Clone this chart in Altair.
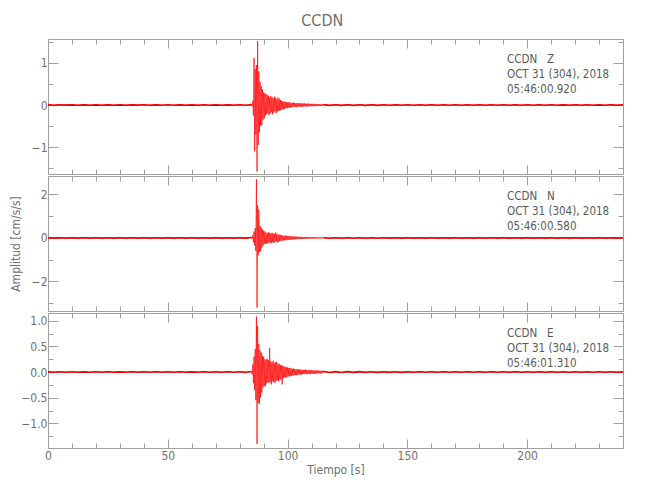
import altair as alt
import numpy as np
import pandas as pd

# ---------------- data ----------------
X_MAX = 240.0
X_MAJOR = [0, 50, 100, 150, 200]
X_MINOR = [10, 20, 30, 40, 60, 70, 80, 90, 110, 120, 130, 140, 160, 170, 180, 190, 210, 220, 230, 240]

# sampling of the three segments of each trace (start, step in seconds)
PRE_START, PRE_STEP = 0.0, 2.5
EV_START, EV_STEP = 85.0, 0.25
POST_START, POST_STEP = 115.0, 2.5

# --- Z component ---
Z_PRE = [0.004, -0.004, 0.005, -0.003, 0.004, -0.005, 0.003, -0.004, 0.004, -0.004, 0.004, -0.004,
         0.004, -0.005, 0.004, -0.003, 0.005, -0.004, 0.004, -0.004, 0.005, -0.005, 0.004, -0.004,
         0.003, -0.004, 0.005, -0.004, 0.004, -0.004, 0.004, -0.004, 0.005, -0.005, 0.01]
Z_EVENT = [0.02, -0.03, 0.10, -0.25, 1.12, -1.10, 0.85, -0.70,
           0.95, -1.58, 1.52, -0.95, 0.80, -0.65, 0.55, -0.50,
           0.45, -0.48, 0.38, -0.35, 0.30, -0.32, 0.28, -0.25,
           0.26, -0.22, 0.24, -0.20, 0.22, -0.24, 0.18, -0.20,
           0.21, -0.17, 0.19, -0.22, 0.16, -0.18, 0.20, -0.15,
           0.17, -0.19, 0.14, -0.16, 0.18, -0.13, 0.15, -0.14,
           0.12, -0.12, 0.10, -0.11, 0.09, -0.10, 0.08, -0.09,
           0.08, -0.07, 0.07, -0.08, 0.06, -0.07, 0.07, -0.06,
           0.06, -0.05, 0.05, -0.06, 0.05, -0.05, 0.06, -0.04,
           0.05, -0.05, 0.04, -0.05, 0.05, -0.04, 0.04, -0.04,
           0.04, -0.04, 0.05, -0.04, 0.03, -0.04, 0.04, -0.03,
           0.04, -0.03, 0.03, -0.04, 0.03, -0.03, 0.04, -0.03,
           0.03, -0.03, 0.03, -0.03, 0.025, -0.03, 0.03, -0.025,
           0.025, -0.025, 0.03, -0.02, 0.025, -0.025, 0.02, -0.025,
           0.02, -0.02, 0.025, -0.02, 0.02, -0.02, 0.02, -0.02,
           0.02]
Z_POST = [0.01, -0.008, 0.008, -0.008, 0.007, -0.008, 0.007, -0.007, 0.006, -0.007,
          0.006, -0.006, 0.006, -0.006, 0.005, -0.006, 0.005, -0.005, 0.005, -0.005,
          0.005, -0.005, 0.005, -0.005, 0.005, -0.005, 0.005, -0.005, 0.005, -0.005,
          0.005, -0.005, 0.005, -0.005, 0.005, -0.005, 0.005, -0.005, 0.005, -0.005,
          0.004, -0.005, 0.005, -0.004, 0.005, -0.005, 0.004, -0.005, 0.005, -0.004, 0.004]

# --- N component ---
N_PRE = [0.008, -0.007, 0.008, -0.009, 0.007, -0.008, 0.009, -0.007, 0.008, -0.009, 0.007, -0.008,
         0.009, -0.008, 0.007, -0.009, 0.008, -0.007, 0.009, -0.008, 0.007, -0.009, 0.008, -0.008,
         0.009, -0.007, 0.008, -0.009, 0.008, -0.008, 0.009, -0.007, 0.01, -0.009, 0.02]
N_EVENT = [0.02, -0.04, 0.12, -0.20, 0.30, -0.35, 0.45, -0.60,
           2.70, -3.20, 1.50, -0.80, 1.30, -0.65, 0.55, -0.60,
           0.48, -0.45, 0.40, -0.35, 0.32, -0.28, 0.30, -0.26,
           0.25, -0.27, 0.22, -0.24, 0.26, -0.20, 0.23, -0.25,
           0.20, -0.22, 0.24, -0.19, 0.21, -0.23, 0.18, -0.20,
           0.25, -0.17, 0.19, -0.21, 0.16, -0.18, 0.15, -0.14,
           0.14, -0.13, 0.12, -0.12, 0.11, -0.12, 0.10, -0.11,
           0.10, -0.09, 0.11, -0.10, 0.09, -0.09, 0.08, -0.09,
           0.08, -0.07, 0.08, -0.08, 0.07, -0.07, 0.06, -0.07,
           0.06, -0.06, 0.07, -0.05, 0.06, -0.06, 0.05, -0.05,
           0.05, -0.05, 0.05, -0.04, 0.05, -0.05, 0.04, -0.04,
           0.04, -0.04, 0.05, -0.04, 0.04, -0.04, 0.04, -0.03,
           0.04, -0.03, 0.03, -0.04, 0.03, -0.03, 0.04, -0.03,
           0.03, -0.03, 0.03, -0.03, 0.03, -0.025, 0.025, -0.03,
           0.025, -0.025, 0.03, -0.02, 0.025, -0.025, 0.02, -0.025,
           0.02]
N_POST = [0.012, -0.011, 0.01, -0.011, 0.01, -0.01, 0.01, -0.01, 0.009, -0.01,
          0.009, -0.009, 0.009, -0.009, 0.009, -0.009, 0.009, -0.009, 0.009, -0.009,
          0.008, -0.009, 0.009, -0.008, 0.008, -0.009, 0.008, -0.008, 0.009, -0.008,
          0.008, -0.008, 0.008, -0.008, 0.008, -0.008, 0.008, -0.008, 0.008, -0.008,
          0.008, -0.008, 0.008, -0.008, 0.008, -0.008, 0.008, -0.008, 0.008, -0.008, 0.008]

# --- E component ---
E_PRE = [0.004, -0.004, 0.005, -0.003, 0.004, -0.005, 0.003, -0.004, 0.004, -0.004, 0.004, -0.004,
         0.003, -0.004, 0.004, -0.003, 0.005, -0.004, 0.004, -0.004, 0.004, -0.005, 0.004, -0.003,
         0.003, -0.004, 0.005, -0.004, 0.004, -0.004, 0.004, -0.004, 0.005, -0.005, 0.01]
E_EVENT = [0.02, -0.05, 0.15, -0.22, 0.30, -0.35, 0.45, -0.55,
           1.08, -1.40, 0.90, -0.60, 0.55, -0.62, 0.42, -0.50,
           0.38, -0.40, 0.32, -0.30, 0.30, -0.28, 0.25, -0.27,
           0.24, -0.22, 0.26, -0.20, 0.23, -0.21, 0.47, -0.20,
           0.21, -0.24, 0.19, -0.18, 0.22, -0.20, 0.17, -0.21,
           0.19, -0.17, 0.20, -0.16, 0.15, -0.18, 0.16, -0.15,
           0.14, -0.15, 0.13, -0.24, 0.12, -0.12, 0.11, -0.10,
           0.10, -0.11, 0.09, -0.10, 0.09, -0.08, 0.08, -0.09,
           0.08, -0.07, 0.07, -0.08, 0.06, -0.07, 0.07, -0.06,
           0.06, -0.06, 0.05, -0.06, 0.06, -0.05, 0.05, -0.05,
           0.05, -0.05, 0.04, -0.05, 0.05, -0.04, 0.04, -0.04,
           0.04, -0.04, 0.05, -0.04, 0.04, -0.04, 0.04, -0.03,
           0.04, -0.04, 0.03, -0.04, 0.04, -0.03, 0.03, -0.035,
           0.03, -0.03, 0.035, -0.03, 0.03, -0.03, 0.03, -0.025,
           0.03, -0.025, 0.025, -0.03, 0.025, -0.025, 0.025, -0.02,
           0.025]
E_POST = [0.01, -0.009, 0.008, -0.008, 0.007, -0.007, 0.007, -0.007, 0.006, -0.006,
          0.006, -0.006, 0.006, -0.006, 0.005, -0.005, 0.005, -0.005, 0.005, -0.005,
          0.005, -0.005, 0.005, -0.005, 0.005, -0.005, 0.005, -0.005, 0.005, -0.005,
          0.005, -0.005, 0.005, -0.005, 0.005, -0.005, 0.005, -0.005, 0.005, -0.005,
          0.004, -0.005, 0.005, -0.004, 0.004, -0.005, 0.004, -0.004, 0.005, -0.004, 0.004]

ANN_Z = "CCDN\u00a0\u00a0\u00a0Z\nOCT 31 (304), 2018\n05:46:00.920"
ANN_N = "CCDN\u00a0\u00a0\u00a0N\nOCT 31 (304), 2018\n05:46:00.580"
ANN_E = "CCDN\u00a0\u00a0\u00a0E\nOCT 31 (304), 2018\n05:46:01.310"

# ---------------- style ----------------
FONT = "DejaVu Sans Condensed, Liberation Sans, sans-serif"
AX_COLOR = "#a0a0a0"
TXT_COLOR = "#707070"
ANN_COLOR = "#5a5a5a"
W, H = 575, 135


def trace_df(pre, event, post):
    t = np.concatenate([
        PRE_START + PRE_STEP * np.arange(len(pre)),
        EV_START + EV_STEP * np.arange(len(event)),
        POST_START + POST_STEP * np.arange(len(post)),
    ])
    v = np.array(list(pre) + list(event) + list(post), dtype=float)
    seg = ["pre"] * len(pre) + ["event"] * len(event) + ["post"] * len(post)
    return pd.DataFrame({"t": t, "v": v, "seg": seg})


def ax(**kw):
    base = dict(domain=False, grid=False, tickColor=AX_COLOR, tickWidth=1,
                labelFont=FONT, labelFontSize=12, labelColor=TXT_COLOR,
                titleFont=FONT, titleFontSize=12, titleFontWeight="normal",
                titleColor=TXT_COLOR, labelFlush=False)
    base.update(kw)
    return alt.Axis(**base)


GHOST = pd.DataFrame({"t": [0.0], "v": [0.0]})


def panel(df, ann, ydom, ymaj, ymin, yfmt, last, ytitle):
    xs = alt.Scale(domain=[0, X_MAX], nice=False, zero=False)
    ys = alt.Scale(domain=ydom, nice=False, zero=False)

    xb_kw = dict(orient="bottom", values=X_MAJOR, tickSize=9, offset=-9,
                 labels=last, format="d", labelPadding=2, title=None)
    if last:
        xb_kw.update(title="Tiempo  [s]", titlePadding=3)
    yl_kw = dict(orient="left", values=ymaj, tickSize=10, offset=-10,
                 labelPadding=1, format=yfmt, title=None)
    if ytitle:
        yl_kw.update(title=ytitle, titlePadding=9)

    line = alt.Chart(df).mark_line(color="#ff0000", strokeWidth=0.7, clip=True).encode(
        x=alt.X("t:Q", scale=xs, axis=ax(**xb_kw)),
        y=alt.Y("v:Q", scale=ys, axis=ax(**yl_kw)),
        order="t:Q",
    )
    base_line = alt.Chart(df).transform_filter(alt.datum.seg != "event").mark_line(
        color="#ee0000", strokeWidth=1.6, clip=True
    ).encode(
        x=alt.X("t:Q", scale=xs, axis=None),
        y=alt.Y("v:Q", scale=ys, axis=None),
        detail="seg:N",
    )
    g_major = alt.Chart(GHOST).mark_point(opacity=0).encode(
        x=alt.X("t:Q", scale=xs, axis=ax(orient="top", values=X_MAJOR, tickSize=9, offset=-9,
                                         labels=False, title=None)),
        y=alt.Y("v:Q", scale=ys, axis=ax(orient="right", values=ymaj, tickSize=10, offset=-10,
                                         labels=False, title=None)),
    )
    g_minor_b = alt.Chart(GHOST).mark_point(opacity=0).encode(
        x=alt.X("t:Q", scale=xs, axis=ax(orient="bottom", values=X_MINOR, tickSize=5, offset=-5,
                                         labels=False, title=None)),
        y=alt.Y("v:Q", scale=ys, axis=ax(orient="left", values=ymin, tickSize=5, offset=-5,
                                         labels=False, title=None)),
    )
    g_minor_t = alt.Chart(GHOST).mark_point(opacity=0).encode(
        x=alt.X("t:Q", scale=xs, axis=ax(orient="top", values=X_MINOR, tickSize=5, offset=-5,
                                         labels=False, title=None)),
        y=alt.Y("v:Q", scale=ys, axis=ax(orient="right", values=ymin, tickSize=5, offset=-5,
                                         labels=False, title=None)),
    )
    text = alt.Chart(pd.DataFrame({"label": [ann]})).mark_text(
        align="left", baseline="top", font=FONT, fontSize=11.5, color=ANN_COLOR,
        lineBreak="\n", lineHeight=15,
    ).encode(x=alt.value(459), y=alt.value(15), text="label:N")

    return alt.layer(line, base_line, g_major, g_minor_b, g_minor_t, text).resolve_axis(
        x="independent", y="independent").properties(width=W, height=H)


p1 = panel(trace_df(Z_PRE, Z_EVENT, Z_POST), ANN_Z, [-1.64, 1.57],
           [-1, 0, 1], [-1.5, -0.5, 0.5, 1.5], "d", False, None)
p2 = panel(trace_df(N_PRE, N_EVENT, N_POST), ANN_N, [-3.36, 2.85],
           [-2, 0, 2], [-3, -1, 1], "d", False, "Amplitud  [cm/s/s]")
p3 = panel(trace_df(E_PRE, E_EVENT, E_POST), ANN_E, [-1.48, 1.15],
           [-1.0, -0.5, 0.0, 0.5, 1.0], [-1.25, -0.75, -0.25, 0.25, 0.75], ".1f", True, None)

chart = alt.vconcat(p1, p2, p3, spacing=0).properties(
    title=alt.TitleParams("CCDN", font=FONT, fontSize=16, fontWeight="normal",
                          color=TXT_COLOR, anchor="middle", offset=9, dx=6),
    padding={"left": 0, "top": 5, "right": 5, "bottom": 5},
).configure_view(stroke=AX_COLOR, strokeWidth=1).configure_concat(spacing=0)

chart.save("out.html", embed_options={"renderer": "svg", "actions": False})
